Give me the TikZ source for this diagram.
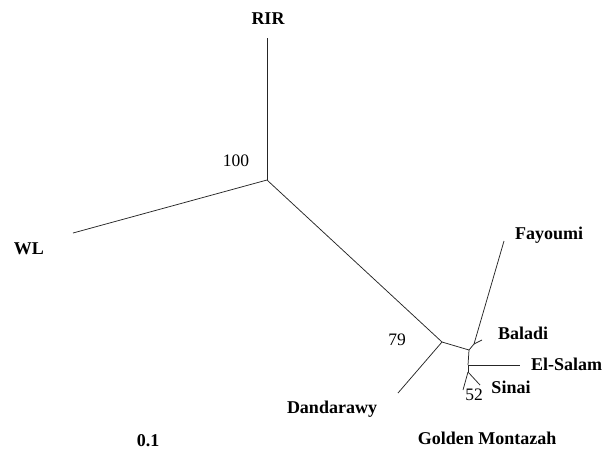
\documentclass[tikz,border=0pt]{standalone}
\usepackage{fontspec}
\setmainfont{Liberation Serif}
\begin{document}
\begin{tikzpicture}[x=1pt,y=-1pt,
  branch/.style={draw=black!85,line width=0.75pt},
  taxon/.style={font=\fontsize{18}{18}\selectfont\bfseries,inner sep=0pt},
  boot/.style={font=\fontsize{17.5}{17.5}\selectfont,inner sep=0pt}]
\useasboundingbox (0,0) rectangle (604,456);
% internal nodes and tips
\coordinate (root) at (267,180);
\coordinate (tRIR) at (267,38);
\coordinate (tWL) at (73,233);
\coordinate (n79) at (442,342);
\coordinate (tDan) at (398,393);
\coordinate (nA) at (469,350);
\coordinate (nB) at (474,344);
\coordinate (tFay) at (504,241);
\coordinate (tBal) at (482,340);
\coordinate (nC) at (468,365);
\coordinate (tSal) at (520,365);
\coordinate (nD) at (468,372);
\coordinate (tGM) at (463,390);
\coordinate (tSin) at (480,385);
% branches
\draw[branch] (root) -- (tRIR);
\draw[branch] (root) -- (tWL);
\draw[branch] (root) -- (n79);
\draw[branch] (n79) -- (tDan);
\draw[branch] (n79) -- (nA);
\draw[branch] (nA) -- (nB);
\draw[branch] (nB) -- (tFay);
\draw[branch] (nB) -- (tBal);
\draw[branch] (nA) -- (nC);
\draw[branch] (nC) -- (tSal);
\draw[branch] (nC) -- (nD);
\draw[branch] (nD) -- (tGM);
\draw[branch] (nD) -- (tSin);
% labels
\node[taxon] (lRIR) at (268,19) {RIR};
\node[taxon] (lWL) at (29,249) {WL};
\node[taxon] (lFay) at (549,235) {Fayoumi};
\node[taxon] (lBal) at (523,333) {Baladi};
\node[taxon,anchor=west] (lSal) at (531,364) {El-Salam};
\node[taxon] (lSin) at (511,387) {Sinai};
\node[taxon] (lDan) at (332,409) {Dandarawy};
\node[taxon] (lGM) at (487,438) {Golden Montazah};
\node[taxon] (lScale) at (148,441) {0.1};
\node[boot] (b100) at (236,161) {100};
\node[boot] (b79) at (397,340) {79};
\node[boot] (b52) at (474,395) {52};
\end{tikzpicture}
\end{document}
